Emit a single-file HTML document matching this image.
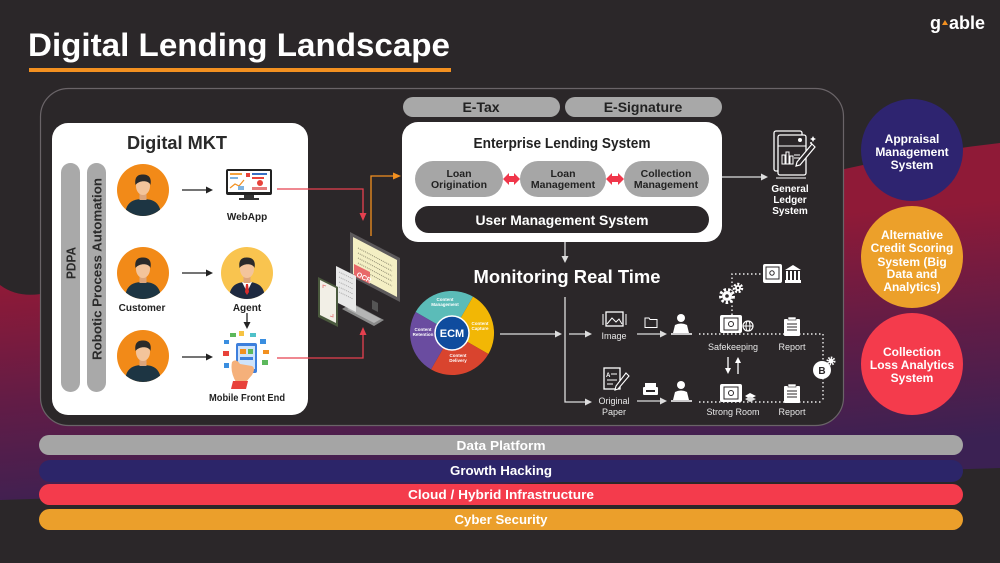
<!DOCTYPE html>
<html><head><meta charset="utf-8"><style>
html,body{margin:0;padding:0;background:#2b2729;}
svg{display:block;}
text{font-family:"Liberation Sans",Arial,sans-serif;font-weight:bold;}
.n{font-weight:normal;}
</style></head><body>
<svg width="1000" height="563" viewBox="0 0 1000 563" xmlns="http://www.w3.org/2000/svg">
<defs>
<linearGradient id="bg" gradientUnits="userSpaceOnUse" x1="0" y1="285" x2="20" y2="520">
<stop offset="0" stop-color="#8f1a37"/><stop offset="0.5" stop-color="#621c46"/><stop offset="1" stop-color="#3b2153"/>
</linearGradient>
<clipPath id="pc"><circle r="26"/></clipPath>
<clipPath id="pcA"><circle cx="247" cy="273" r="26"/></clipPath>
<g id="person">
 <circle r="26" fill="#f28a18"/>
 <g clip-path="url(#pc)">
  <path d="M-18,27 C-18,13 -11,9 0,9 C11,9 18,13 18,27 Z" fill="#1d3543"/>
  <rect x="-3.5" y="0" width="7" height="10" fill="#dca57c"/>
  <ellipse cx="0" cy="-4" rx="7" ry="9" fill="#f3c49b"/>
  <path d="M-7.5,-5 C-9,-15 -3,-15.5 0,-15.5 C5,-15.5 9,-13 7.5,-5 C6,-10 -4,-10 -7.5,-5Z" fill="#2a2a2a"/>
 </g>
</g>
</defs>

<!-- background -->
<rect width="1000" height="563" fill="#2b2729"/>
<path d="M0,285 Q20,300 50,292 L840,170 Q920,152 1000,143 L1000,468 L0,500 Z" fill="url(#bg)"/>

<!-- title -->
<text x="28" y="56" font-size="32" fill="#ffffff" textLength="422" lengthAdjust="spacingAndGlyphs">Digital Lending Landscape</text>
<rect x="29" y="68" width="422" height="4" fill="#f29020"/>

<!-- logo -->
<text x="930" y="29" font-size="18" fill="#ffffff">g</text>
<polygon points="942,25 945,20 948,25" fill="#f29020"/>
<text x="949" y="29" font-size="18" fill="#ffffff" textLength="36" lengthAdjust="spacingAndGlyphs">able</text>

<!-- main panel -->
<rect x="40.5" y="88.5" width="803" height="337" rx="28" fill="#2b2729" stroke="#6a6468" stroke-width="1.2"/>

<!-- Digital MKT box -->
<rect x="52" y="123" width="256" height="292" rx="16" fill="#ffffff"/>
<text x="177" y="149" font-size="18" fill="#2a2a2a" text-anchor="middle" textLength="100" lengthAdjust="spacingAndGlyphs">Digital MKT</text>
<rect x="61" y="163" width="19" height="229" rx="9.5" fill="#a9a9a9"/>
<rect x="87" y="163" width="19" height="229" rx="9.5" fill="#a9a9a9"/>
<text transform="translate(75.5,263) rotate(-90)" font-size="13" fill="#2a2a2a" text-anchor="middle" textLength="32" lengthAdjust="spacingAndGlyphs">PDPA</text>
<text transform="translate(101.5,269) rotate(-90)" font-size="13" fill="#2a2a2a" text-anchor="middle" textLength="182" lengthAdjust="spacingAndGlyphs">Robotic Process Automation</text>

<use href="#person" x="143" y="190"/>
<use href="#person" x="143" y="273"/>
<use href="#person" x="143" y="356"/>

<!-- agent -->
<circle cx="247" cy="273" r="26" fill="#f9c44f"/>
<g clip-path="url(#pcA)">
 <path d="M229,300 C229,286 236,282 247,282 C258,282 265,286 265,300 Z" fill="#1e2940"/>
 <path d="M242,282 L247,292 L252,282 Z" fill="#ffffff"/>
 <path d="M246,284 L248,284 L249,292 L247,295 L245,292 Z" fill="#d92b2b"/>
 <rect x="243.5" y="273" width="7" height="10" fill="#dca57c"/>
 <ellipse cx="247" cy="269" rx="7" ry="9" fill="#f3c49b"/>
 <path d="M239.5,268 C238,258 244,257.5 247,257.5 C252,257.5 256,260 254.5,268 C253,263 243,263 239.5,268Z" fill="#2a2a2a"/>
</g>

<text x="142" y="311" font-size="10" fill="#222" text-anchor="middle">Customer</text>
<text x="247" y="311" font-size="10" fill="#222" text-anchor="middle">Agent</text>

<!-- black arrows -->
<g stroke="#222" stroke-width="1.3">
<line x1="182" y1="190" x2="208" y2="190"/>
<line x1="182" y1="273" x2="208" y2="273"/>
<line x1="182" y1="357" x2="208" y2="357"/>
<line x1="247" y1="313" x2="247" y2="324"/>
</g>
<g fill="#222">
<polygon points="213,190 206,186.5 206,193.5"/>
<polygon points="213,273 206,269.5 206,276.5"/>
<polygon points="213,357 206,353.5 206,360.5"/>
<polygon points="247,329 243.5,322 250.5,322"/>
</g>

<!-- WebApp monitor -->
<rect x="226" y="169" width="46" height="26" rx="2" fill="#222"/>
<rect x="228" y="171" width="42" height="21" fill="#ffffff"/>
<rect x="230" y="173" width="12" height="2" fill="#f4a340"/>
<rect x="230" y="177" width="8" height="2" fill="#7fb3e0"/>
<polyline points="230,188 235,184 239,186 244,180" fill="none" stroke="#f29020" stroke-width="1.2"/>
<rect x="246" y="173" width="4" height="4" fill="#e8423a"/>
<rect x="252" y="173" width="15" height="2" fill="#3a6fc4"/>
<rect x="252" y="177" width="12" height="2" fill="#e8423a"/>
<circle cx="260" cy="183" r="3" fill="#e8423a"/>
<rect x="252" y="187" width="15" height="3" fill="#e57b7b"/>
<rect x="238" y="186" width="6" height="4" fill="#7fb3e0"/>
<rect x="244" y="195" width="10" height="3" fill="#333"/>
<rect x="239" y="198" width="20" height="2" fill="#333"/>
<text x="247" y="220" font-size="10" fill="#222" text-anchor="middle">WebApp</text>

<!-- Mobile front end -->
<rect x="224" y="340" width="5" height="4" fill="#3a8ee0"/>
<rect x="230" y="333" width="6" height="4" fill="#5cb85c"/>
<rect x="239" y="331" width="5" height="5" fill="#f6c343"/>
<rect x="250" y="333" width="6" height="4" fill="#4fc1c9"/>
<rect x="260" y="339" width="6" height="5" fill="#3a8ee0"/>
<rect x="263" y="350" width="6" height="4" fill="#f29020"/>
<rect x="223" y="351" width="6" height="5" fill="#e8423a"/>
<rect x="262" y="360" width="6" height="5" fill="#5cb85c"/>
<rect x="224" y="363" width="5" height="5" fill="#3a8ee0"/>
<rect x="236" y="343" width="21" height="30" rx="2" fill="#3d7fdc"/>
<rect x="238" y="346" width="17" height="23" fill="#cfe3fa"/>
<rect x="240" y="349" width="6" height="5" fill="#f29020"/>
<rect x="248" y="349" width="5" height="5" fill="#5cb85c"/>
<rect x="240" y="357" width="13" height="3" fill="#3d7fdc"/>
<path d="M232,362 Q236,358 240,364 L252,366 Q256,368 252,375 L246,382 L236,382 Q230,372 232,362Z" fill="#f5b07a"/>
<polygon points="233,381 248,381 246,389 231,389" fill="#e8423a"/>
<text x="247" y="401" font-size="10" fill="#222" text-anchor="middle" textLength="76" lengthAdjust="spacingAndGlyphs">Mobile Front End</text>

<!-- red connectors -->
<g stroke="#e5404f" stroke-width="1.3" fill="none">
<polyline points="277,189 363,189 363,214"/>
<polyline points="277,358 363,358 363,333"/>
</g>
<polygon points="363,221 359.5,213 366.5,213" fill="#e5404f"/>
<polygon points="363,327 359.5,335 366.5,335" fill="#e5404f"/>

<!-- orange connector -->
<polyline points="371,236 371,176 394,176" fill="none" stroke="#f29020" stroke-width="1.3"/>
<polygon points="401,176 393,172.5 393,179.5" fill="#f29020"/>

<!-- OCR computer -->
<polygon points="350,232 400,258 400,302 350,276" fill="#5d5a5c"/>
<polygon points="353,237 397,260 397,297 353,274" fill="#f4efc4"/>
<g stroke="#8e8a70" stroke-width="1" stroke-dasharray="1 1">
<line x1="358" y1="248" x2="392" y2="266"/>
<line x1="358" y1="253" x2="392" y2="271"/>
<line x1="358" y1="258" x2="392" y2="276"/>
<line x1="358" y1="263" x2="392" y2="281"/>
<line x1="358" y1="268" x2="392" y2="286"/>
</g>
<polygon points="354,264 370,272 370,284 354,276" fill="#e8686a"/>
<text x="356" y="276" font-size="7" fill="#fff" transform="rotate(27 356 276)">OCR</text>
<polygon points="372,300 378,303 378,312 372,309" fill="#555"/>
<polygon points="352,303 384,320 374,326 342,309" fill="#8a8a8a"/>
<polygon points="354,305 381,319 374,323 347,309" fill="#b5b5b5"/>
<polygon points="336,266 356,276 356,312 336,302" fill="#e8e8e8"/>
<g stroke="#999" stroke-width="0.8" stroke-dasharray="1 1">
<line x1="339" y1="272" x2="353" y2="279"/><line x1="339" y1="277" x2="353" y2="284"/>
<line x1="339" y1="282" x2="353" y2="289"/><line x1="339" y1="287" x2="353" y2="294"/>
<line x1="339" y1="292" x2="353" y2="299"/>
</g>
<polygon points="318,277 338,287 338,327 318,317" fill="#4b5a3e"/>
<polygon points="320,280 336,288 336,323 320,315" fill="#f2efe6"/>
<polyline points="323,288 323,285 326,286" fill="none" stroke="#e57b7b" stroke-width="0.8"/>
<polyline points="333,314 333,317 330,316" fill="none" stroke="#e57b7b" stroke-width="0.8"/>

<!-- E-Tax / E-Signature -->
<rect x="403" y="97" width="157" height="20" rx="10" fill="#a8a8a8"/>
<rect x="565" y="97" width="157" height="20" rx="10" fill="#a8a8a8"/>
<text x="481" y="112" font-size="14" fill="#222" text-anchor="middle">E-Tax</text>
<text x="643" y="112" font-size="14" fill="#222" text-anchor="middle">E-Signature</text>

<!-- ELS -->
<rect x="402" y="122" width="320" height="120" rx="16" fill="#ffffff"/>
<text x="562" y="148" font-size="14.5" fill="#222" text-anchor="middle" textLength="177" lengthAdjust="spacingAndGlyphs">Enterprise Lending System</text>
<rect x="415" y="161" width="88" height="36" rx="18" fill="#a6a6a6"/>
<rect x="520" y="161" width="86" height="36" rx="18" fill="#a6a6a6"/>
<rect x="624" y="161" width="85" height="36" rx="18" fill="#a6a6a6"/>
<g font-size="10.5" fill="#222" text-anchor="middle">
<text x="459" y="177">Loan</text><text x="459" y="188">Origination</text>
<text x="563" y="177">Loan</text><text x="563" y="188">Management</text>
<text x="666" y="177">Collection</text><text x="666" y="188">Management</text>
</g>
<polygon points="503,179 509,173 509,176 514,176 514,173 520,179 514,185 514,182 509,182 509,185" fill="#f0364a"/>
<polygon points="606,179 612,173 612,176 618,176 618,173 624,179 618,185 618,182 612,182 612,185" fill="#f0364a"/>
<rect x="415" y="206" width="294" height="27" rx="13.5" fill="#2b2729"/>
<text x="562" y="225" font-size="14" fill="#fff" text-anchor="middle" textLength="173" lengthAdjust="spacingAndGlyphs">User Management System</text>

<!-- to GL -->
<line x1="722" y1="177" x2="762" y2="177" stroke="#ddd" stroke-width="1.3"/>
<polygon points="768,177 761,173.5 761,180.5" fill="#ddd"/>
<!-- GL icon -->
<rect x="774" y="131" width="28" height="40" rx="2" fill="none" stroke="#fff" stroke-width="1.3"/>
<rect x="778" y="135" width="28" height="40" rx="2" fill="#2b2729" stroke="#fff" stroke-width="1.3"/>
<line x1="778" y1="146" x2="806" y2="146" stroke="#fff" stroke-width="1"/>
<circle cx="800" cy="140" r="2" fill="#fff"/>
<rect x="782" y="155" width="3" height="9" fill="none" stroke="#fff" stroke-width="1"/>
<rect x="786" y="152" width="3" height="12" fill="none" stroke="#fff" stroke-width="1"/>
<rect x="790" y="156" width="3" height="8" fill="none" stroke="#fff" stroke-width="1"/>
<line x1="794" y1="155" x2="800" y2="155" stroke="#fff"/><line x1="794" y1="158" x2="800" y2="158" stroke="#fff"/>
<path d="M812,144 L815,147 L800,165 L796,166 L797,162 Z" fill="#2b2729" stroke="#fff" stroke-width="1.2"/>
<path d="M813,136 l1,2 2,1 -2,1 -1,2 -1,-2 -2,-1 2,-1z" fill="#fff"/>
<circle cx="811" cy="143" r="1" fill="#fff"/>
<line x1="776" y1="178" x2="806" y2="178" stroke="#fff" stroke-width="1"/>
<g font-size="10" fill="#fff" text-anchor="middle">
<text x="790" y="192">General</text><text x="790" y="203">Ledger</text><text x="790" y="214">System</text>
</g>

<!-- down from ELS -->
<line x1="565" y1="242" x2="565" y2="257" stroke="#ddd" stroke-width="1.3"/>
<polygon points="565,263 561.5,256 568.5,256" fill="#ddd"/>
<text x="567" y="283" font-size="18" fill="#fff" text-anchor="middle" textLength="187" lengthAdjust="spacingAndGlyphs">Monitoring Real Time</text>

<!-- ECM -->
<path d="M452,333 L415.6,312 A42,42 0 0 1 473,296.6 Z" fill="#5bbcb8"/>
<path d="M452,333 L473,296.6 A42,42 0 0 1 488.4,354 Z" fill="#f2b705"/>
<path d="M452,333 L488.4,354 A42,42 0 0 1 431,369.4 Z" fill="#d9442e"/>
<path d="M452,333 L431,369.4 A42,42 0 0 1 415.6,312 Z" fill="#6a4ca0"/>
<circle cx="452" cy="333" r="17" fill="#0f4c9e" stroke="#fff" stroke-width="1.5"/>
<text x="452" y="337" font-size="11" fill="#fff" text-anchor="middle">ECM</text>
<g font-size="4.5" fill="#fff" text-anchor="middle">
<text x="445" y="301">Content</text><text x="445" y="306">Management</text>
<text x="480" y="325">Content</text><text x="480" y="330">Capture</text>
<text x="423" y="331">Content</text><text x="423" y="336">Retention</text>
<text x="458" y="357">Content</text><text x="458" y="362">Delivery</text>
</g>

<!-- monitoring flow lines -->
<g stroke="#ddd" stroke-width="1.3" fill="none">
<line x1="500" y1="334" x2="556" y2="334"/>
<polyline points="565,297 565,402 586,402"/>
<line x1="569" y1="334" x2="586" y2="334"/>
<line x1="637" y1="334" x2="661" y2="334"/>
<line x1="637" y1="401" x2="661" y2="401"/>
</g>
<g fill="#ddd">
<polygon points="562,334 555,330.5 555,337.5"/>
<polygon points="592,334 585,330.5 585,337.5"/>
<polygon points="592,402 585,398.5 585,405.5"/>
<polygon points="667,334 660,330.5 660,337.5"/>
<polygon points="667,401 660,397.5 660,404.5"/>
</g>
<!-- dotted -->
<g stroke="#eee" stroke-width="1.4" stroke-dasharray="1.5 2.5" fill="none">
<line x1="699" y1="334" x2="823" y2="334"/>
<line x1="699" y1="402" x2="823" y2="402"/>
<line x1="823" y1="334" x2="823" y2="402"/>
<polyline points="732,315 732,274 763,274"/>
</g>

<!-- image icon -->
<rect x="606" y="312" width="17" height="14" fill="none" stroke="#fff" stroke-width="1.3"/>
<polyline points="607,324 612,318 616,322 619,319 622,324" fill="none" stroke="#fff" stroke-width="1"/>
<line x1="603" y1="314" x2="603" y2="325" stroke="#fff"/><line x1="626" y1="314" x2="626" y2="325" stroke="#fff"/>
<text class="n" x="614" y="339" font-size="9" fill="#e8e8e8" text-anchor="middle">Image</text>
<!-- folder -->
<path d="M645,318 h4 l1,1.5 h7 v8 h-12 z" fill="none" stroke="#fff" stroke-width="1"/>
<!-- persons -->
<circle cx="681" cy="318" r="4" fill="#fff"/>
<path d="M673,333 L675,325 Q681,322 687,325 L689,333 Z" fill="#fff"/>
<line x1="671" y1="334" x2="692" y2="334" stroke="#fff" stroke-width="1.5"/>
<circle cx="681" cy="385" r="4" fill="#fff"/>
<path d="M673,400 L675,392 Q681,389 687,392 L689,400 Z" fill="#fff"/>
<line x1="671" y1="401" x2="692" y2="401" stroke="#fff" stroke-width="1.5"/>
<!-- safekeeping safe -->
<rect x="720" y="315" width="22" height="18" rx="2" fill="#fff"/>
<rect x="724" y="318" width="14" height="12" fill="none" stroke="#2b2729" stroke-width="1"/>
<circle cx="731" cy="324" r="2.5" fill="none" stroke="#2b2729" stroke-width="1"/>
<circle cx="748" cy="326" r="5" fill="none" stroke="#fff" stroke-width="1.2"/>
<line x1="743" y1="326" x2="753" y2="326" stroke="#fff"/><ellipse cx="748" cy="326" rx="2" ry="5" fill="none" stroke="#fff"/>
<text class="n" x="733" y="350" font-size="9" fill="#e8e8e8" text-anchor="middle">Safekeeping</text>
<!-- report 1 -->
<rect x="784" y="319" width="16" height="17" rx="1" fill="#fff"/>
<rect x="788" y="317" width="8" height="3" fill="#fff" stroke="#2b2729" stroke-width="0.6"/>
<g stroke="#2b2729" stroke-width="1"><line x1="787" y1="324" x2="797" y2="324"/><line x1="787" y1="327" x2="797" y2="327"/><line x1="787" y1="330" x2="797" y2="330"/></g>
<text class="n" x="792" y="350" font-size="9" fill="#e8e8e8" text-anchor="middle">Report</text>
<!-- gears -->
<circle cx="727" cy="296" r="6.5" fill="none" stroke="#fff" stroke-width="3" stroke-dasharray="2.5 2"/>
<circle cx="727" cy="296" r="5" fill="#fff"/><circle cx="727" cy="296" r="1.8" fill="#2b2729"/>
<circle cx="738" cy="288" r="4" fill="none" stroke="#fff" stroke-width="2.5" stroke-dasharray="2 1.6"/>
<circle cx="738" cy="288" r="3" fill="#fff"/><circle cx="738" cy="288" r="1.2" fill="#2b2729"/>
<!-- top safe + bank -->
<rect x="763" y="264" width="19" height="19" rx="2" fill="#fff"/>
<rect x="766" y="267" width="13" height="12" fill="none" stroke="#2b2729"/>
<circle cx="772" cy="273" r="2.2" fill="none" stroke="#2b2729"/>
<polygon points="785,270 793,265 801,270" fill="#fff"/>
<g fill="#fff"><rect x="786" y="271" width="2" height="9"/><rect x="790" y="271" width="2" height="9"/><rect x="794" y="271" width="2" height="9"/><rect x="798" y="271" width="2" height="9"/><rect x="785" y="280" width="16" height="3"/></g>
<!-- up/down arrows -->
<line x1="728" y1="357" x2="728" y2="369" stroke="#fff" stroke-width="1.3"/>
<polygon points="728,374 725,368 731,368" fill="#fff"/>
<line x1="738" y1="374" x2="738" y2="362" stroke="#fff" stroke-width="1.3"/>
<polygon points="738,357 735,363 741,363" fill="#fff"/>
<!-- strong room -->
<rect x="720" y="384" width="22" height="18" rx="2" fill="#fff"/>
<rect x="724" y="387" width="14" height="12" fill="none" stroke="#2b2729"/>
<circle cx="731" cy="393" r="2.5" fill="none" stroke="#2b2729"/>
<polygon points="745,396 750,393 756,396 750,399" fill="#fff"/>
<polygon points="745,399 750,396.5 756,399 750,402" fill="#ddd"/>
<text class="n" x="733" y="415" font-size="9" fill="#e8e8e8" text-anchor="middle">Strong Room</text>
<!-- report 2 -->
<rect x="784" y="386" width="16" height="17" rx="1" fill="#fff"/>
<rect x="788" y="384" width="8" height="3" fill="#fff" stroke="#2b2729" stroke-width="0.6"/>
<g stroke="#2b2729" stroke-width="1"><line x1="787" y1="391" x2="797" y2="391"/><line x1="787" y1="394" x2="797" y2="394"/><line x1="787" y1="397" x2="797" y2="397"/></g>
<text class="n" x="792" y="415" font-size="9" fill="#e8e8e8" text-anchor="middle">Report</text>
<!-- bitcoin -->
<circle cx="822" cy="370" r="9" fill="#fff"/>
<text x="822" y="374" font-size="10" fill="#2b2729" text-anchor="middle">B</text>
<circle cx="831" cy="361" r="3.5" fill="none" stroke="#fff" stroke-width="2" stroke-dasharray="1.5 1.2"/>
<circle cx="831" cy="361" r="2.5" fill="#fff"/>
<!-- original paper -->
<rect x="604" y="368" width="16" height="21" fill="none" stroke="#fff" stroke-width="1.3"/>
<text x="606" y="377" font-size="6" fill="#fff">A</text>
<g stroke="#fff" stroke-width="1"><line x1="611" y1="374" x2="617" y2="374"/><line x1="607" y1="380" x2="617" y2="380"/><line x1="607" y1="384" x2="613" y2="384"/></g>
<path d="M626,373 L629,376 L618,389 L615,390 L616,386 Z" fill="#2b2729" stroke="#fff" stroke-width="1.1"/>
<text class="n" x="614" y="404" font-size="9" fill="#e8e8e8" text-anchor="middle">Original</text>
<text class="n" x="614" y="415" font-size="9" fill="#e8e8e8" text-anchor="middle">Paper</text>
<!-- printer -->
<rect x="645" y="383" width="11" height="4" fill="#fff"/>
<rect x="643" y="387" width="15" height="8" rx="1" fill="#fff"/>
<rect x="646" y="390" width="9" height="2" fill="#2b2729"/>

<!-- right circles -->
<circle cx="912" cy="150" r="51" fill="#2e2470"/>
<circle cx="912" cy="257" r="51" fill="#eca02a"/>
<circle cx="912" cy="364" r="51" fill="#f43b4c"/>
<g font-size="12" fill="#fff" text-anchor="middle">
<text x="912" y="143">Appraisal</text><text x="912" y="156">Management</text><text x="912" y="169">System</text>
<text x="912" y="239">Alternative</text><text x="912" y="252">Credit Scoring</text><text x="912" y="266">System (Big</text><text x="912" y="278">Data and</text><text x="912" y="291">Analytics)</text>
<text x="912" y="356">Collection</text><text x="912" y="369">Loss Analytics</text><text x="912" y="382">System</text>
</g>

<!-- bottom bars -->
<rect x="39" y="435" width="924" height="20" rx="10" fill="#a5a5a5"/>
<rect x="39" y="460" width="924" height="22" rx="11" fill="#2c2569"/>
<rect x="39" y="484" width="924" height="21" rx="10.5" fill="#f43b4c"/>
<rect x="39" y="509" width="924" height="21" rx="10.5" fill="#eb9f2b"/>
<g font-size="13" fill="#fff" text-anchor="middle">
<text x="501" y="450" textLength="89" lengthAdjust="spacingAndGlyphs">Data Platform</text>
<text x="501" y="475" textLength="102" lengthAdjust="spacingAndGlyphs">Growth Hacking</text>
<text x="501" y="499" textLength="186" lengthAdjust="spacingAndGlyphs">Cloud / Hybrid Infrastructure</text>
<text x="501" y="524" textLength="93" lengthAdjust="spacingAndGlyphs">Cyber Security</text>
</g>
</svg>
</body></html>
